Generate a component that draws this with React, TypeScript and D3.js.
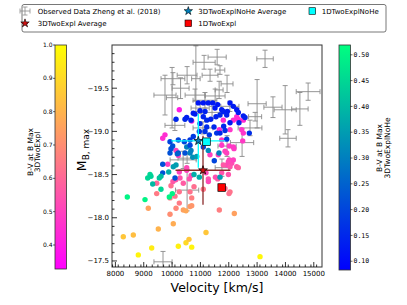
import React from "react";
import * as d3 from "d3";

// Observed data, Zheng et al. (2018)
const obsVel = [13280, 11590, 11130, 10840, 10530, 11340, 10030, 9750, 11940, 11690, 11660, 13000, 13560, 13990, 14510, 14800, 12930, 14090, 12470, 11940, 11760, 10100, 10390, 10530, 10530, 9680, 10810, 11160, 11520, 10990, 12040, 11410, 11090, 10000, 12750, 10300];
const obsMag = [-19.84, -19.86, -19.8, -19.61, -19.65, -19.65, -19.61, -19.42, -19.55, -19.71, -19.48, -19.32, -19.28, -19.25, -19.26, -19.46, -19.17, -18.92, -18.87, -18.83, -18.58, -19.07, -18.67, -18.69, -18.32, -17.49, -19.42, -19.36, -19.41, -19.27, -19.29, -19.22, -19.04, -19.39, -19.04, -19.5];
const obsVelErr = [290, 320, 390, 150, 350, 280, 420, 390, 210, 170, 140, 320, 320, 390, 290, 420, 230, 290, 410, 320, 240, 350, 460, 320, 410, 320, 350, 420, 350, 320, 320, 390, 350, 200, 420, 300];
const obsMagErr = [0.1, 0.09, 0.08, 0.38, 0.1, 0.07, 0.07, 0.23, 0.1, 0.05, 0.1, 0.28, 0.12, 0.28, 0.19, 0.1, 0.05, 0.1, 0.16, 0.12, 0.1, 0.06, 0.1, 0.06, 0.24, 0.12, 0.07, 0.09, 0.08, 0.06, 0.06, 0.07, 0.07, 0.35, 0.09, 0.12];

// 3DTwoExpl models
const explVel = [8808, 8279, 8632, 9281, 9514, 10043, 10220, 10491, 10597, 10693, 11197, 9161, 9927, 10139, 10255, 10396, 10491, 10633, 10693, 10693, 9457, 11667, 12196, 13103, 12009, 9846, 9457, 9962, 10280, 10396, 10608, 10774, 10633, 11102, 10255, 10103, 9927, 10255, 10516, 11197, 11278, 11610, 11751, 11928, 12044, 12104, 12281, 12161, 12019, 11868, 12044, 10255, 12281, 12161, 12514, 11808, 11667, 12044, 12457, 12492, 12185, 9750, 9669, 11751, 12019, 10139, 11338, 11631, 11751, 11928, 12161, 12337, 12514, 11868, 11987, 12337, 11987, 11808, 10693, 10220, 10516, 10670, 10130, 11280, 11530, 10030];
const explMag = [-17.57, -17.78, -17.8, -17.65, -17.87, -17.93, -17.67, -17.71, -17.75, -17.66, -17.83, -18.11, -18.04, -18.11, -18.17, -18.09, -18.08, -18.13, -18.14, -18.23, -18.28, -18.09, -18.05, -17.55, -18.28, -18.62, -18.4, -18.37, -18.46, -18.4, -18.45, -18.36, -18.3, -18.33, -18.3, -18.25, -18.23, -18.53, -18.55, -18.52, -18.45, -18.45, -18.52, -18.61, -18.59, -18.63, -18.59, -18.67, -18.67, -18.34, -18.3, -19.25, -19.17, -19.13, -19.13, -19.13, -19.02, -19.02, -19.02, -18.89, -18.8, -18.96, -18.92, -18.9, -18.83, -18.78, -18.73, -18.73, -18.84, -18.75, -18.82, -19.14, -18.98, -18.77, -18.65, -18.58, -18.5, -18.61, -19.12, -18.72, -18.58, -18.49, -18.44, -18.42, -18.47, -18.42];
const explBV = [0.97, 0.85, 0.83, 0.95, 0.8, 0.78, 0.96, 0.9, 0.85, 0.97, 0.85, 0.75, 0.7, 0.68, 0.65, 0.75, 0.77, 0.74, 0.72, 0.66, 0.65, 0.66, 0.75, 0.98, 0.62, 0.5, 0.6, 0.62, 0.55, 0.57, 0.55, 0.62, 0.63, 0.64, 0.63, 0.63, 0.65, 0.5, 0.5, 0.52, 0.55, 0.57, 0.55, 0.52, 0.55, 0.53, 0.55, 0.5, 0.5, 0.62, 0.63, 0.4, 0.45, 0.45, 0.45, 0.45, 0.45, 0.47, 0.47, 0.48, 0.48, 0.45, 0.45, 0.47, 0.48, 0.5, 0.5, 0.5, 0.48, 0.5, 0.48, 0.44, 0.47, 0.5, 0.52, 0.58, 0.55, 0.56, 0.42, 0.5, 0.52, 0.53, 0.55, 0.52, 0.54, 0.56];

// 3DTwoExplNoHe models
const noHeVel = [10925, 11102, 11278, 11434, 11610, 12044, 12161, 10749, 10985, 11162, 11515, 11751, 11808, 11949, 12281, 12337, 12514, 12574, 10139, 10456, 10668, 11102, 11222, 11363, 11550, 11691, 11928, 10985, 11222, 11480, 11868, 12725, 11575, 11314, 9927, 10022, 10220, 10432, 10633, 10749, 10961, 11162, 11928, 10220, 10516, 10668, 9962, 9927, 10184, 10456, 10633, 10728, 10869, 10633, 11102, 11278, 11490, 9669, 9669, 10043, 10139, 10103, 10774, 10961, 11691, 9881, 9609, 9549, 9140, 9221, 9256, 9316, 9609, 10008, 8420, 9045, 9902, 11656, 12044, 11691, 10516, 10809, 11820, 12360];
const noHeMag = [-19.33, -19.33, -19.33, -19.33, -19.31, -19.33, -19.29, -19.21, -19.24, -19.23, -19.27, -19.25, -19.23, -19.23, -19.25, -19.22, -19.18, -19.16, -19.14, -19.14, -19.13, -19.17, -19.13, -19.14, -19.17, -19.19, -19.19, -19.09, -19.05, -19.05, -19.01, -18.98, -18.98, -18.96, -18.88, -18.83, -18.9, -18.88, -18.9, -18.94, -19.0, -19.0, -18.91, -18.75, -18.82, -18.78, -18.8, -18.75, -18.74, -18.75, -18.75, -18.7, -18.71, -18.84, -18.82, -18.78, -18.66, -18.62, -18.52, -18.59, -18.61, -18.46, -18.5, -18.47, -18.47, -18.53, -18.48, -18.46, -18.46, -18.5, -18.48, -18.39, -18.33, -18.28, -18.24, -18.21, -18.24, -18.75, -19.1, -18.98, -19.16, -19.2, -19.06, -19.1];
const noHeBV = [0.12, 0.12, 0.13, 0.12, 0.12, 0.12, 0.13, 0.13, 0.13, 0.14, 0.12, 0.13, 0.14, 0.13, 0.12, 0.13, 0.13, 0.14, 0.15, 0.15, 0.14, 0.14, 0.15, 0.14, 0.14, 0.15, 0.14, 0.15, 0.16, 0.15, 0.16, 0.16, 0.17, 0.18, 0.2, 0.22, 0.2, 0.2, 0.18, 0.18, 0.17, 0.17, 0.18, 0.22, 0.3, 0.3, 0.22, 0.22, 0.25, 0.22, 0.3, 0.33, 0.35, 0.2, 0.2, 0.32, 0.2, 0.22, 0.22, 0.35, 0.35, 0.22, 0.38, 0.38, 0.35, 0.38, 0.4, 0.42, 0.45, 0.45, 0.44, 0.4, 0.45, 0.5, 0.5, 0.5, 0.5, 0.3, 0.13, 0.15, 0.14, 0.13, 0.15, 0.14];

// averages and 1D models
const noHeAvg = { vel: 10925, mag: -18.89, velErr: 950, magErr: 0.31, bv: 0.3 };
const explAvg = { vel: 11091, mag: -18.55, velErr: 970, magErr: 0.4 };
const oneDNoHe = { vel: 11215, mag: -18.88 };
const oneDExpl = { vel: 11751, mag: -18.35 };

const velTicks = [8000, 9000, 10000, 11000, 12000, 13000, 14000, 15000];
const magTicks = [-19.5, -19.0, -18.5, -18.0, -17.5];
const explCbTicks = [0.4, 0.5, 0.6, 0.7, 0.8, 0.9, 1.0];
const noHeCbTicks = [0.1, 0.15, 0.2, 0.25, 0.3, 0.35, 0.4, 0.45, 0.5];

const spring = (t: number) => d3.rgb(255, 255 * t, 255 * (1 - t)).formatHex();
const winter = (t: number) => d3.rgb(0, 255 * t, 255 * (1 - 0.5 * t)).formatHex();

const font = "DejaVu Sans, sans-serif";

export default function App() {
  const x = d3.scaleLinear().domain([7880, 15290]).range([112, 322]);
  const y = d3.scaleLinear().domain([-20.0, -17.43]).range([45, 267]);
  const cbL = d3.scaleLinear().domain([0.328, 1.0]).range([269, 45]);
  const cbR = d3.scaleLinear().domain([0.083, 0.519]).range([270, 45]);
  const explColor = (v: number) => spring((v - 0.328) / (1 - 0.328));
  const noHeColor = (v: number) => winter((v - 0.083) / (0.519 - 0.083));

  const star = d3.symbol().type(d3.symbolStar).size(24)()!;
  const starSmall = d3.symbol().type(d3.symbolStar).size(22)()!;
  const minorX = d3.range(7900, 15300, 200).filter((v) => v % 1000 !== 0);
  const minorY = d3.range(-19.9, -17.4, 0.1).filter((v) => Math.abs(v * 2 - Math.round(v * 2)) > 0.01);
  const stops = d3.range(0, 1.001, 0.1);
  const gray = "#8a8a8a";

  const cap = 2.5;
  const errbar = (cx: number, cy: number, x0: number, x1: number, y0: number, y1: number, color: string, sw: number, key: string, caps = true) => (
    <g key={key} stroke={color} strokeWidth={sw}>
      <line x1={x0} x2={x1} y1={cy} y2={cy} />
      <line x1={cx} x2={cx} y1={y0} y2={y1} />
      {caps && (
        <>
          <line x1={x0} x2={x0} y1={cy - cap} y2={cy + cap} />
          <line x1={x1} x2={x1} y1={cy - cap} y2={cy + cap} />
          <line x1={cx - cap} x2={cx + cap} y1={y0} y2={y0} />
          <line x1={cx - cap} x2={cx + cap} y1={y1} y2={y1} />
        </>
      )}
    </g>
  );

  return (
    <svg width={407} height={305} style={{ position: "absolute", left: 0, top: 0, background: "#fff" }} fontFamily={font}>
      <defs>
        <linearGradient id="springGrad" x1="0" y1="1" x2="0" y2="0">
          {stops.map((t) => <stop key={t} offset={t} stopColor={spring(t)} />)}
        </linearGradient>
        <linearGradient id="winterGrad" x1="0" y1="1" x2="0" y2="0">
          {stops.map((t) => <stop key={t} offset={t} stopColor={winter(t)} />)}
        </linearGradient>
        <clipPath id="plotClip"><rect x={112} y={45} width={210} height={222} /></clipPath>
      </defs>

      {/* legend */}
      <rect x={22} y={4.5} width={364} height={27.5} rx={2} fill="#fff" stroke="#555" strokeWidth={0.8} />
      <g fontSize={7}>
        {errbar(25, 11, 20, 30, 7, 15, gray, 0.8, "lg0")}
        <text x={37.7} y={13.5}>Observed Data Zheng et al. (2018)</text>
        <line x1={22} x2={28} y1={23.3} y2={23.3} stroke="#8b2020" strokeWidth={1.2} />
        <path d={starSmall} transform="translate(25,23.3)" fill="#cc1010" stroke="#000" strokeWidth={0.6} />
        <text x={37.7} y={26}>3DTwoExpl Average</text>
        <line x1={185} x2={191.6} y1={11} y2={11} stroke="#00ffff" strokeWidth={1.2} />
        <path d={starSmall} transform="translate(188.3,11)" fill={noHeColor(noHeAvg.bv)} stroke="#000" strokeWidth={0.6} />
        <text x={198.3} y={13.5}>3DTwoExplNoHe Average</text>
        <rect x={185} y={20} width={6.6} height={6.6} fill="#ff0000" stroke="#000" strokeWidth={0.6} />
        <text x={198.3} y={26}>1DTwoExpl</text>
        <rect x={309} y={7.7} width={6.6} height={6.6} fill="#00ffff" stroke="#000" strokeWidth={0.6} />
        <text x={321.7} y={13.5}>1DTwoExplNoHe</text>
      </g>

      {/* plot */}
      <g clipPath="url(#plotClip)">
        {obsVel.map((v, i) =>
          errbar(x(v), y(obsMag[i]), x(v - obsVelErr[i]), x(v + obsVelErr[i]), y(obsMag[i] - obsMagErr[i]), y(obsMag[i] + obsMagErr[i]), gray, 0.9, "o" + i)
        )}
        {explVel.map((v, i) => (
          <circle key={"e" + i} cx={x(v)} cy={y(explMag[i])} r={2.7} fill={explColor(explBV[i])} />
        ))}
        {noHeVel.map((v, i) => (
          <circle key={"n" + i} cx={x(v)} cy={y(noHeMag[i])} r={2.7} fill={noHeColor(noHeBV[i])} />
        ))}
        {errbar(x(noHeAvg.vel), y(noHeAvg.mag), x(noHeAvg.vel - noHeAvg.velErr), x(noHeAvg.vel + noHeAvg.velErr), y(noHeAvg.mag - noHeAvg.magErr), y(noHeAvg.mag + noHeAvg.magErr), "#00ffff", 1.3, "na", false)}
        {errbar(x(explAvg.vel), y(explAvg.mag), x(explAvg.vel - explAvg.velErr), x(explAvg.vel + explAvg.velErr), y(explAvg.mag - explAvg.magErr), y(explAvg.mag + explAvg.magErr), "#8b2a2a", 1.3, "ea", false)}
        <path d={star} transform={`translate(${x(noHeAvg.vel)},${y(noHeAvg.mag)})`} fill={noHeColor(noHeAvg.bv)} stroke="#000" strokeWidth={0.7} />
        <path d={star} transform={`translate(${x(explAvg.vel)},${y(explAvg.mag)})`} fill="#cc1010" stroke="#000" strokeWidth={0.7} />
        <rect x={x(oneDNoHe.vel) - 3.8} y={y(oneDNoHe.mag) - 3.8} width={7.6} height={7.6} fill="#00ffff" stroke="#000" strokeWidth={0.7} />
        <rect x={x(oneDExpl.vel) - 3.8} y={y(oneDExpl.mag) - 3.8} width={7.6} height={7.6} fill="#ff0000" stroke="#000" strokeWidth={0.7} />
      </g>
      <rect x={112} y={45} width={210} height={222} fill="none" stroke="#333" strokeWidth={1} />

      {/* axes ticks */}
      <g stroke="#000" strokeWidth={0.8}>
        {velTicks.map((v) => <line key={v} x1={x(v)} x2={x(v)} y1={267} y2={262} />)}
        {minorX.map((v) => <line key={v} x1={x(v)} x2={x(v)} y1={267} y2={264.5} />)}
        {magTicks.map((v) => <line key={v} x1={112} x2={117} y1={y(v)} y2={y(v)} />)}
        {minorY.map((v) => <line key={v} x1={112} x2={114.5} y1={y(v)} y2={y(v)} />)}
      </g>
      <g fontSize={7} textAnchor="middle">
        {velTicks.map((v) => <text key={v} x={x(v)} y={276}>{v}</text>)}
      </g>
      <g fontSize={7} textAnchor="end">
        {magTicks.map((v) => <text key={v} x={109} y={y(v) + 2.5}>{d3.format(".1f")(v).replace("-", "\u2212")}</text>)}
      </g>
      <text x={217} y={292} fontSize={12.5} textAnchor="middle">Velocity [km/s]</text>
      <text transform="translate(86,150) rotate(-90)" fontSize={12.5} textAnchor="middle">
        M<tspan fontSize={9} dy={3}>B, max</tspan>
      </text>

      {/* left colorbar */}
      <rect x={55} y={45} width={11.5} height={224} fill="url(#springGrad)" stroke="#333" strokeWidth={0.8} />
      <g stroke="#000" strokeWidth={0.6}>
        {explCbTicks.map((v) => <line key={v} x1={55} x2={53} y1={cbL(v)} y2={cbL(v)} />)}
      </g>
      <g fontSize={6} textAnchor="end">
        {explCbTicks.map((v) => <text key={v} x={52.5} y={cbL(v) + 2}>{v.toFixed(1)}</text>)}
      </g>
      <text transform="translate(33,152) rotate(-90)" fontSize={7.5} textAnchor="middle">B-V at B Max</text>
      <text transform="translate(40,152) rotate(-90)" fontSize={7.5} textAnchor="middle">3DTwoExpl</text>

      {/* right colorbar */}
      <rect x={339} y={45} width={11.5} height={225} fill="url(#winterGrad)" stroke="#333" strokeWidth={0.8} />
      <g stroke="#000" strokeWidth={0.6}>
        {noHeCbTicks.map((v) => <line key={v} x1={350.5} x2={352.5} y1={cbR(v)} y2={cbR(v)} />)}
      </g>
      <g fontSize={6.5} fontFamily="DejaVu Sans Mono, monospace">
        {noHeCbTicks.map((v) => <text key={v} x={353.5} y={cbR(v) + 2.2}>{v.toFixed(2)}</text>)}
      </g>
      <text transform="translate(382,148) rotate(-90)" fontSize={7.5} textAnchor="middle">B-V at B Max</text>
      <text transform="translate(389.5,148) rotate(-90)" fontSize={7.5} textAnchor="middle">3DTwoExplNoHe</text>
    </svg>
  );
}
